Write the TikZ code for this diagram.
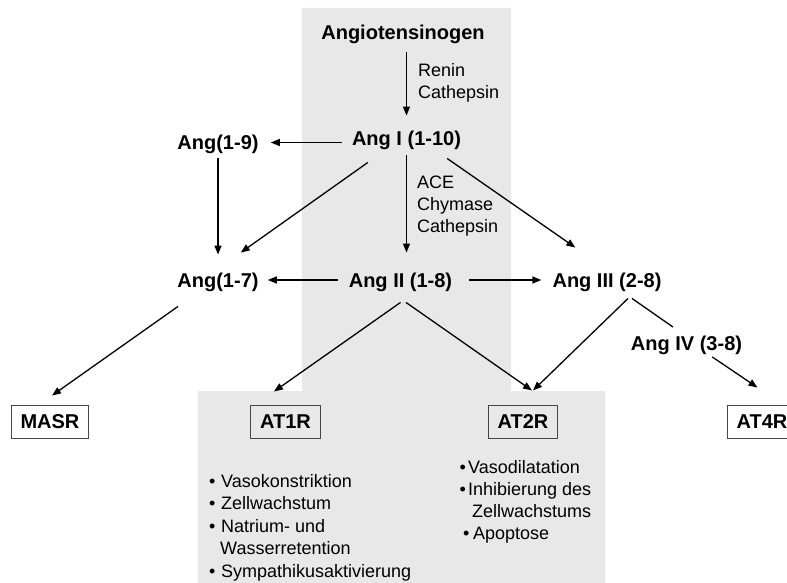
\documentclass[tikz,border=0pt]{standalone}
\usepackage{fontspec}
\setmainfont{Liberation Sans}
\usetikzlibrary{arrows.meta,calc}
\definecolor{bandgray}{RGB}{232,232,232}
\definecolor{boxline}{RGB}{70,70,70}
\newcommand\bulw[1]{\makebox[#1][l]{•}}
\begin{document}
\begin{tikzpicture}[x=1pt,y=-1pt,
  lbl/.style={font=\fontsize{20}{24}\selectfont\bfseries, inner sep=0pt, text height=14.5pt, text depth=0pt, anchor=center},
  rbox/.style={draw=boxline, line width=1pt, font=\fontsize{20}{24}\selectfont\bfseries, inner xsep=9.5pt, inner ysep=0pt, text height=14.5pt, text depth=0pt, minimum height=33pt},
  enz/.style={font=\fontsize{18}{22}\selectfont, inner sep=0pt, anchor=base west},
  lst/.style={inner sep=0pt, anchor=base west},
  arr/.style={line width=1.3pt, -{Triangle[length=9pt,width=7pt]}},
  ln/.style={line width=1.3pt}
]
\useasboundingbox (0,0) rectangle (787,583);
\clip (0,0) rectangle (787,583);
\fill[bandgray] (302,8) -- (511,8) -- (511,391) -- (605,391) -- (605,583) -- (198,583) -- (198,391) -- (302,391) -- cycle;

\node[lbl] (agen) at (403,32.5) {Angiotensinogen};
\node[lbl] (ang1) at (406.5,138) {Ang I (1-10)};
\node[lbl] (ang19) at (218,142.5) {Ang(1-9)};
\node[lbl] (ang17) at (218,280) {Ang(1-7)};
\node[lbl] (ang2) at (400.5,280) {Ang II (1-8)};
\node[lbl] (ang3) at (607,280) {Ang III (2-8)};
\node[lbl] (ang4) at (686.5,343.5) {Ang IV (3-8)};

\node[rbox] (masr) at (50,421.5) {MASR};
\node[rbox] (at1r) at (285.5,421.5) {AT1R};
\node[rbox] (at2r) at (523,421.5) {AT2R};
\node[rbox] (at4r) at (762,421.5) {AT4R};

\node[enz] (e1) at (418,99) {\begin{tabular}[b]{@{}l@{}}Renin\\Cathepsin\end{tabular}};
\node[enz] (e2) at (417,232) {\begin{tabular}[b]{@{}l@{}}ACE\\Chymase\\Cathepsin\end{tabular}};

\node[lst, font=\fontsize{18}{22.5}\selectfont] (l1) at (209,487) {\begin{tabular}[t]{@{}l@{}}\bulw{12pt}Vasokonstriktion\\ \bulw{12pt}Zellwachstum\\ \bulw{12pt}Natrium- und\\ \hspace*{11pt}Wasserretention\\ \bulw{12pt}Sympathikusaktivierung\end{tabular}};
\node[lst, font=\fontsize{18}{22}\selectfont] (l2) at (459.5,473) {\begin{tabular}[t]{@{}l@{}}\bulw{8.5pt}Vasodilatation\\ \bulw{8.5pt}Inhibierung des\\ \hspace*{12.5pt}Zellwachstums\\ \hspace*{3.5pt}\bulw{10pt}Apoptose\end{tabular}};

\draw[arr, shorten <=12pt, shorten >=15pt] (ang1.north |- agen.south) -- (ang1.north);
\draw[arr, shorten <=10pt, shorten >=12pt] (ang1.west |- ang19.east) -- (ang19.east);
\draw[arr, shorten <=8.5pt, shorten >=18pt] (ang19.south) -- (ang17.north);
\draw[arr] ([shift={(16,17)}]ang1.south west) -- ([shift={(-18,-20)}]ang17.north east);
\draw[arr, shorten <=10pt, shorten >=20pt] (ang1.south) -- (ang1.south |- ang2.north);
\draw[arr] ([shift={(-14,13)}]ang1.south east) -- ([shift={(23,-25)}]ang3.north west);
\draw[arr, shorten <=11pt, shorten >=9pt] (ang2.west) -- (ang17.east);
\draw[arr, shorten <=17pt, shorten >=11pt] (ang2.east) -- (ang3.west);
\draw[arr] ([shift={(-40,19)}]ang17.south) -- ([shift={(2,-9)}]masr.north);
\draw[arr] ([shift={(0,15)}]ang2.south) -- ([shift={(-11.5,-13)}]at1r.north);
\draw[arr] ([shift={(5.5,15)}]ang2.south) -- ([shift={(9,-14)}]at2r.north);
\draw[arr] ([shift={(21,11)}]ang3.south) -- ([shift={(10,-14)}]at2r.north);
\draw[ln] ([shift={(25,11)}]ang3.south) -- ([shift={(-13.5,-9)}]ang4.north);
\draw[arr] ([shift={(-30,6)}]ang4.south east) -- ([shift={(-4.5,-17)}]at4r.north);
\end{tikzpicture}
\end{document}
